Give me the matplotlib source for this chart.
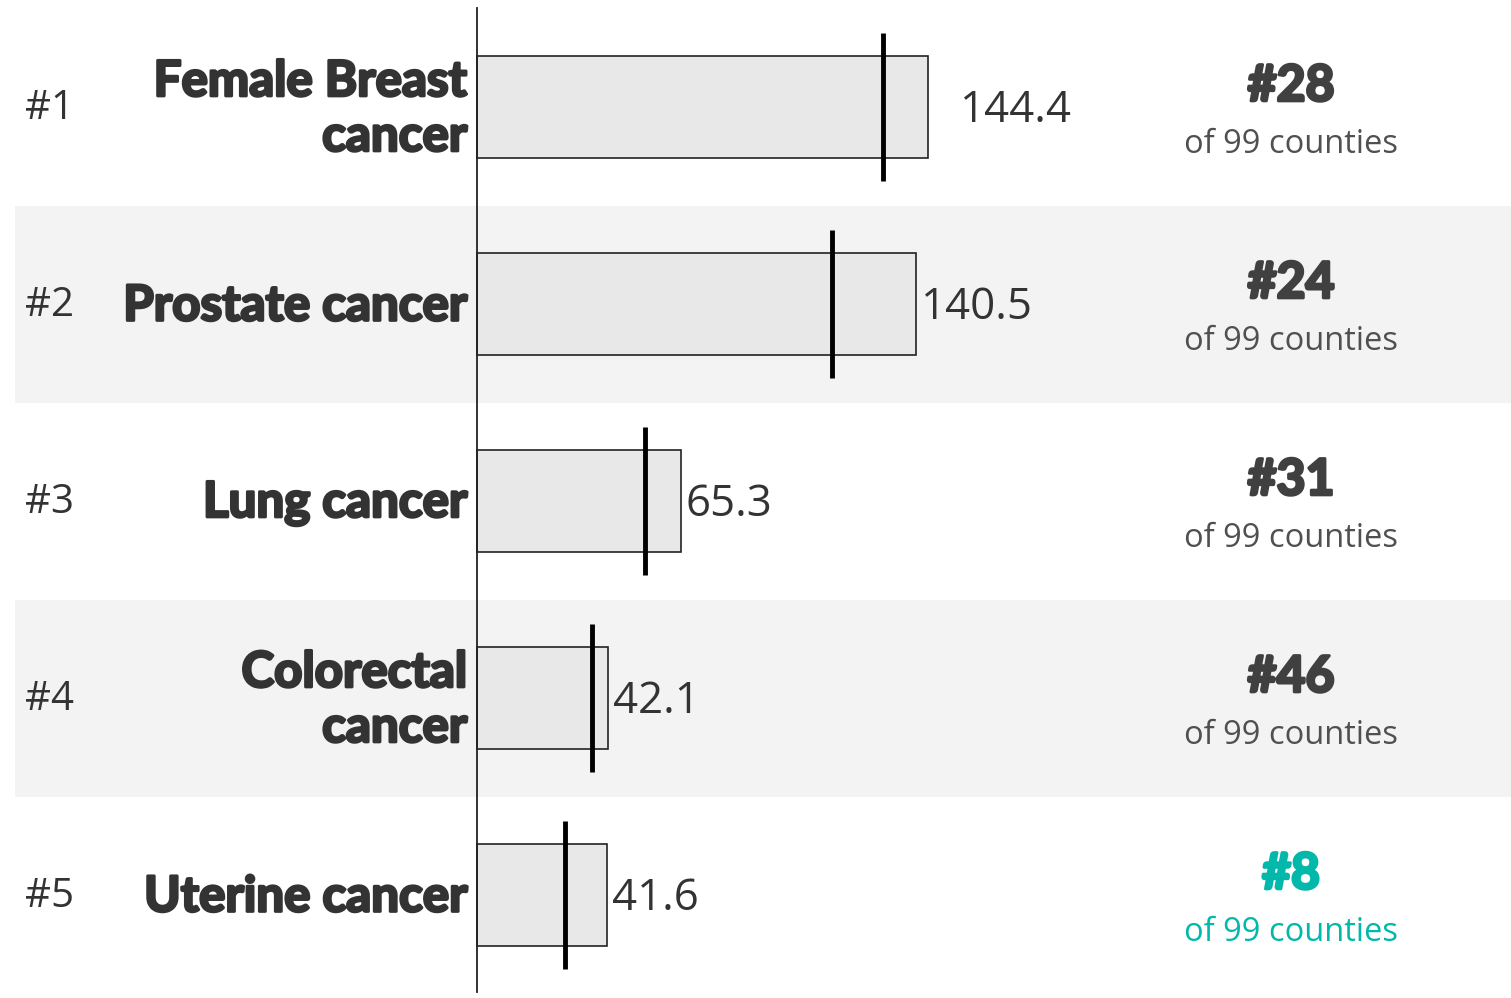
import matplotlib
matplotlib.use("Agg")
import matplotlib.pyplot as plt
import matplotlib.transforms as mtransforms
import matplotlib.patheffects as pe

# ---- data ----
ranks_label = ["#1", "#2", "#3", "#4", "#5"]
categories = ["Female Breast\ncancer", "Prostate cancer", "Lung cancer", "Colorectal\ncancer", "Uterine cancer"]
values = [144.4, 140.5, 65.3, 42.1, 41.6]
benchmark = [130.0, 113.7, 53.8, 36.8, 28.2]
county_rank = ["#28", "#24", "#31", "#46", "#8"]
county_total = ["of 99 counties"] * 5
highlight = [False, False, False, False, True]

W, H = 1511, 998
fig = plt.figure(figsize=(W / 100, H / 100), dpi=100)
ax = fig.add_axes([0, 0, 1, 1])

px_per_unit = 3.123
x0 = 477
ax.set_xlim(-x0 / px_per_unit, (W - x0) / px_per_unit)
row_px = 197
c0 = 107
ax.set_ylim((H - c0) / row_px, -c0 / row_px)
ax.axis("off")

text_dark = "#333333"
rank_dark = "#404040"
sub_gray = "#505050"
teal = "#01B8AA"

n = len(values)
xf = mtransforms.blended_transform_factory(ax.transAxes, ax.transData)
for i in range(n):
    if i % 2 == 1:
        ax.add_patch(plt.Rectangle((15 / W, i - 0.5), 1 - 15 / W, 1.0, transform=xf,
                                   facecolor="#F3F3F3", edgecolor="none", zorder=0))

ax.barh(range(n), values, height=0.518, left=0, color="#E8E8E8", edgecolor="#222222",
        linewidth=1.2, zorder=2)
for i, b in enumerate(benchmark):
    ax.plot([b, b], [i - 0.376, i + 0.376], color="black", linewidth=3.5, zorder=3,
            solid_capstyle="butt")

ax.plot([0, 0], [-0.503, n - 0.508], color="#222222", linewidth=1.3, zorder=4)

num_font = "Open Sans"
cat_font = ["Lato", "DejaVu Sans"]


def heavy(color, w=1.6):
    return [pe.withStroke(linewidth=w, foreground=color)]


for i in range(n):
    ax.text(25 / W, i + 0.01, ranks_label[i], transform=xf, ha="left", va="center",
            fontsize=29, color=text_dark, family=num_font)
    ax.text(467 / W, i + 0.01, categories[i], transform=xf, ha="right", va="center",
            fontsize=35.5, color=text_dark, family=cat_font, fontweight="bold",
            linespacing=1.27, path_effects=heavy(text_dark, 2.0))
    gap = 32 if i == 0 else 5
    ax.annotate(f"{values[i]:.1f}", xy=(values[i], i), xytext=(gap * 0.72, -3),
                textcoords="offset points", ha="left", va="center",
                fontsize=31.5, color=text_dark, family=num_font)
    col_r = teal if highlight[i] else rank_dark
    col_s = teal if highlight[i] else sub_gray
    ax.text(1291 / W, i - 0.105, county_rank[i], transform=xf, ha="center", va="center",
            fontsize=36, color=col_r, family=cat_font, fontweight="bold",
            path_effects=heavy(col_r, 2.2))
    ax.text(1291 / W, i + 0.19, county_total[i], transform=xf, ha="center", va="center",
            fontsize=23.5, color=col_s, family=num_font)

fig.savefig("out.png", dpi=100, facecolor="white")
